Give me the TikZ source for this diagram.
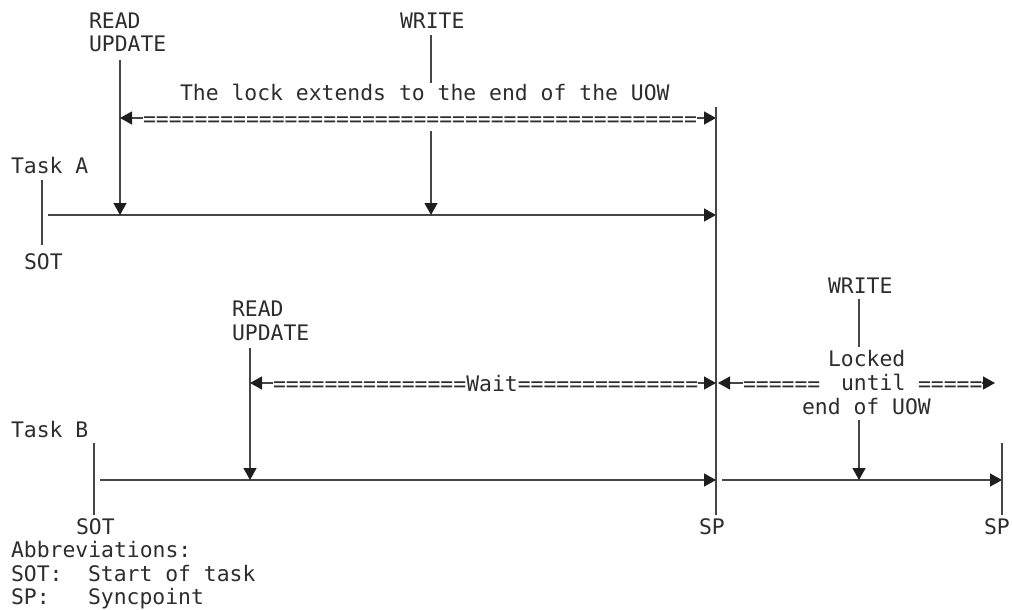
\documentclass[tikz,border=0pt]{standalone}
\usepackage{fontspec}
\setmainfont{DejaVu Sans Mono}
\usetikzlibrary{arrows.meta}
\definecolor{ink}{RGB}{45,45,45}
\definecolor{rule}{RGB}{70,70,70}
\definecolor{tipc}{RGB}{30,30,30}
\begin{document}
\begin{tikzpicture}[x=1pt,y=-1pt,
  txt/.style={anchor=base west,inner sep=0pt,outer sep=0pt,text=ink,font=\fontsize{21.4}{23}\selectfont},
  ln/.style={draw=rule,line width=1.3pt},
  arr/.style={ln,-{Triangle[length=12pt,width=13pt,color=tipc]}}]
\useasboundingbox (0,0) rectangle (1012,610);
% ---------- Task A ----------
\node[txt] (readA1) at (89,29) {READ};
\node[txt] (readA2) at (89,52) {UPDATE};
\node[txt] (writeA) at (400,29) {WRITE};
\node[txt] (lockA) at (180,100) {The lock extends to the end of the UOW};
\node[txt] (eqA) at (143,126) {===========================================};
\node[txt] (taskA) at (11,173) {Task A};
\node[txt] (sotA) at (24,269) {SOT};
\coordinate (tickA1) at (42,180);
\coordinate (tickA2) at (42,245);
\coordinate (lineA1) at (48,215);
\coordinate (lineA2) at (716,215);
\coordinate (rA1) at (120,60);
\coordinate (rA2) at (120,215);
\coordinate (wA1) at (431,35);
\coordinate (wA2) at (431,83);
\coordinate (wA3) at (431,131);
\coordinate (wA4) at (431,215);
\coordinate (eqAl) at (120,118);
\coordinate (eqAr) at (716,118);
\coordinate (sp1a) at (716,107);
\coordinate (sp1b) at (716,515);
\draw[ln] (tickA1) -- (tickA2);
\draw[arr] (lineA1) -- (lineA2);
\draw[arr] (rA1) -- (rA2);
\draw[ln] (wA1) -- (wA2);
\draw[arr] (wA3) -- (wA4);
\draw[arr] (eqA.west |- eqAl) -- (eqAl);
\draw[arr] (eqA.east |- eqAr) -- (eqAr);
\draw[ln] (sp1a) -- (sp1b);
% ---------- Task B ----------
\node[txt] (readB1) at (232,316) {READ};
\node[txt] (readB2) at (232,340) {UPDATE};
\node[txt] (eqB1) at (273,391) {===============};
\node[txt] (wait) at (eqB1.base east) {Wait};
\node[txt] (eqB2) at (wait.base east) {==============};
\node[txt] (writeB) at (828,293) {WRITE};
\node[txt] (locked) at (828,366) {Locked};
\node[txt] (until) at (841,390) {until};
\node[txt] (endU) at (802,414) {end of UOW};
\node[txt] (eqC1) at (743,391) {======};
\node[txt] (eqC2) at (918,391) {=====};
\node[txt] (taskB) at (11,437) {Task B};
\node[txt] (sotB) at (76,534) {SOT};
\node[txt] (spB1) at (699,534) {SP};
\node[txt] (spB2) at (984,534) {SP};
\coordinate (tickB1) at (94,443);
\coordinate (tickB2) at (94,515);
\coordinate (lineB1) at (100,480);
\coordinate (lineB2) at (716,480);
\coordinate (lineB3) at (722,480);
\coordinate (lineB4) at (1002,480);
\coordinate (tickC1) at (1002,443);
\coordinate (tickC2) at (1002,515);
\coordinate (rB1) at (250,348);
\coordinate (rB2) at (250,480);
\coordinate (waitL) at (250,383);
\coordinate (waitR) at (716,383);
\coordinate (lockL) at (718,383);
\coordinate (lockR) at (995,383);
\coordinate (wB1) at (859,299);
\coordinate (wB2) at (859,347);
\coordinate (wB3) at (859,420);
\coordinate (wB4) at (859,480);
\draw[ln] (tickB1) -- (tickB2);
\draw[arr] (lineB1) -- (lineB2);
\draw[arr] (lineB3) -- (lineB4);
\draw[ln] (tickC1) -- (tickC2);
\draw[arr] (rB1) -- (rB2);
\draw[arr] (eqB1.west |- waitL) -- (waitL);
\draw[arr] (eqB2.east |- waitR) -- (waitR);
\draw[arr] (eqC1.west |- lockL) -- (lockL);
\draw[arr] (eqC2.east |- lockR) -- (lockR);
\draw[ln] (wB1) -- (wB2);
\draw[arr] (wB3) -- (wB4);
% ---------- Abbreviations ----------
\node[txt] (abbr) at (11,557) {Abbreviations:};
\node[txt] (abSOT) at (11,581) {SOT:};
\node[txt] (abSOTt) at (88,581) {Start of task};
\node[txt] (abSP) at (11,604) {SP:};
\node[txt] (abSPt) at (88,604) {Syncpoint};
\end{tikzpicture}
\end{document}
